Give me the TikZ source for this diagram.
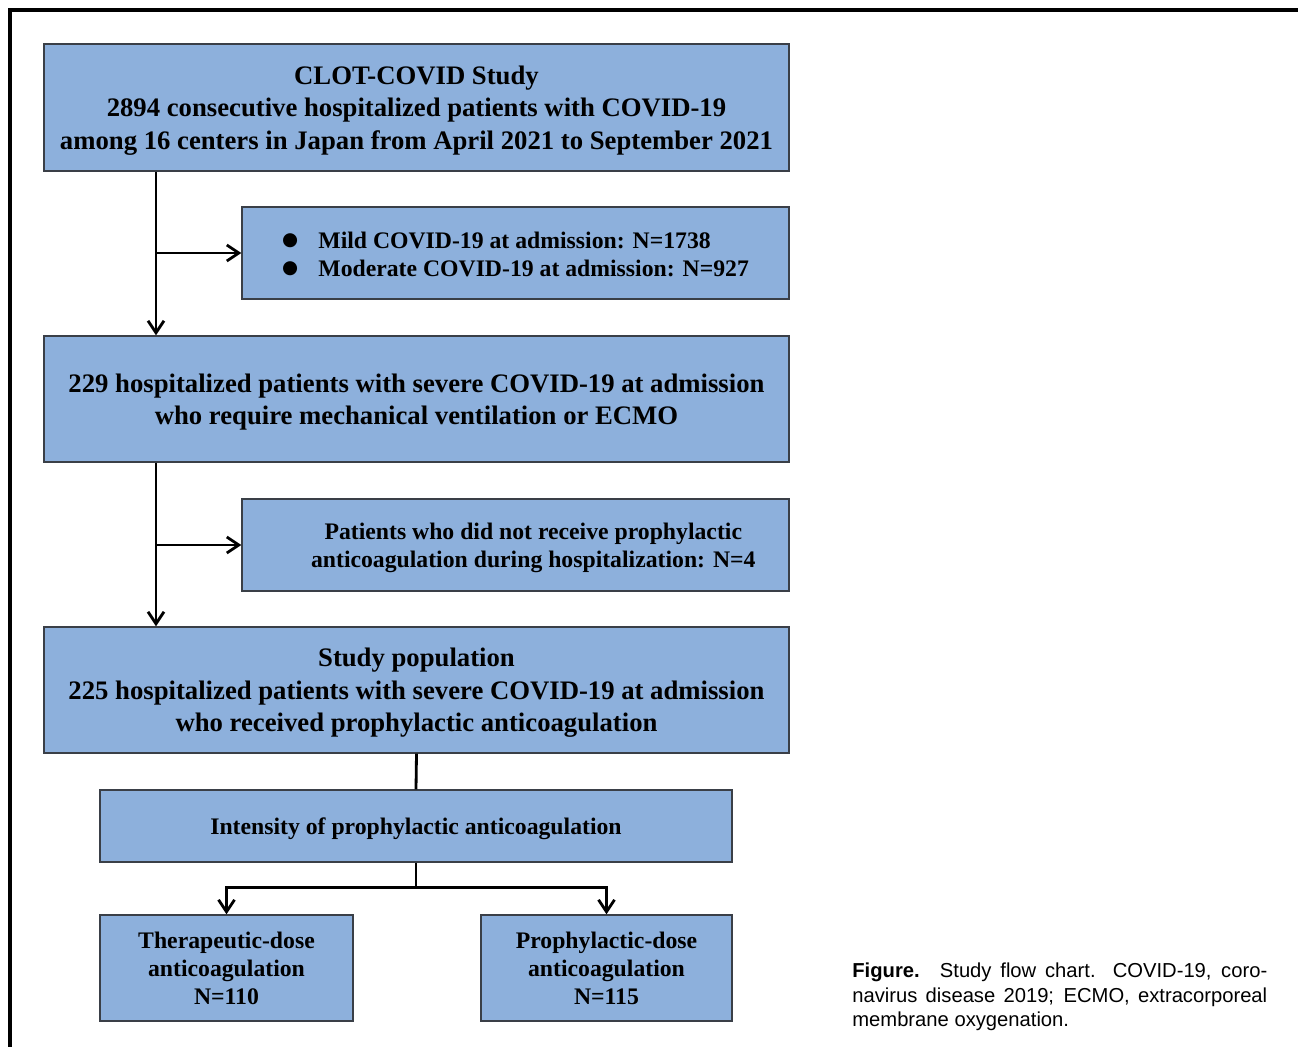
\documentclass[tikz,border=0pt]{standalone}
\usepackage{fontspec}
\setmainfont{Liberation Serif}
\newfontfamily\capfont{Liberation Sans}
\newfontfamily\dotfont{DejaVu Sans}
\usetikzlibrary{arrows.meta,calc,positioning}
\definecolor{BoxBlue}{HTML}{8DB0DC}
\definecolor{Edge}{HTML}{3A3F47}
\newcommand{\bigdot}{\raisebox{1.6pt}{\dotfont\fontsize{10.5}{10.5}\selectfont ●}}

\begin{document}
\begin{tikzpicture}[x=.02cm,y=-.02cm,
    box/.style={draw=Edge,fill=BoxBlue,line width=.8pt,inner sep=0pt,align=center,text depth=0pt,
      font=\bfseries\fontsize{15.2}{18.4}\selectfont},
    smallbox/.style={box,font=\bfseries\fontsize{13.5}{15.9}\selectfont},
    link/.style={line width=1.6pt},
    arr/.style={link,-{Straight Barb[length=2.4mm,width=3.2mm,line width=1.6pt]}}]
  \useasboundingbox(0,0)rectangle(1298,1047);
  \draw[line width=1.8pt](10,1047)--(10,10)--(1298,10);
  % main column
  \node[box,minimum width=14.9cm,minimum height=2.54cm](clot)at(416.5,107.5)
    {CLOT-COVID Study\\2894 consecutive hospitalized patients with COVID-19\\among 16 centers in Japan from April 2021 to September 2021};
  \node[smallbox,minimum width=10.94cm,minimum height=1.84cm](mild)at(515.5,253)
    {\begin{tabular}[b]{@{}l@{\hspace{.85em}}l@{}}\bigdot&Mild COVID-19 at admission: N=1738\\\bigdot&Moderate COVID-19 at admission: N=927\end{tabular}};
  \node[box,minimum width=14.9cm,minimum height=2.52cm](severe)at(416.5,399)
    {229 hospitalized patients with severe COVID-19 at admission\\who require mechanical ventilation or ECMO};
  \node[smallbox,minimum width=10.94cm,minimum height=1.84cm](noanti)at(515.5,545)
    {\hspace*{1.5em}Patients who did not receive prophylactic\\\hspace*{1.5em}anticoagulation during hospitalization: N=4};
  \node[box,minimum width=14.9cm,minimum height=2.52cm](study)at(416.5,690)
    {Study population\\225 hospitalized patients with severe COVID-19 at admission\\who received prophylactic anticoagulation};
  \node[smallbox,minimum width=12.64cm,minimum height=1.44cm](intensity)at(416,826)
    {Intensity of prophylactic anticoagulation};
  \node[smallbox,minimum width=5.06cm,minimum height=2.12cm](thera)at(226.5,968)
    {Therapeutic-dose\\anticoagulation\\N=110};
  \node[smallbox,minimum width=5.02cm,minimum height=2.12cm](proph)at(606.5,968)
    {Prophylactic-dose\\anticoagulation\\N=115};
  % connectors
  \coordinate(trunk)at(156,0);
  \draw[arr](trunk|-clot.south)--(trunk|-severe.north);
  \draw[arr](trunk|-mild.west)--(mild.west);
  \draw[arr](trunk|-severe.south)--(trunk|-study.north);
  \draw[arr](trunk|-noanti.west)--(noanti.west);
  \draw[link](study.south)--(intensity.north);
  \coordinate(split)at($(intensity.south)+(0,25)$);
  \draw[link](intensity.south)--(split);
  \draw[arr](split)-|(thera.north);
  \draw[arr](split)-|(proph.north);
  % caption
  \node[anchor=north west,inner sep=0pt,text width=8.3cm,align=justify,
    font=\capfont\fontsize{11.5}{13.9}\selectfont](caption)at(852,963)
    {{\bfseries Figure.}\quad Study flow chart. COVID-19, coro-\linebreak navirus disease 2019; ECMO, extracorporeal membrane oxygenation.};
\end{tikzpicture}
\end{document}
